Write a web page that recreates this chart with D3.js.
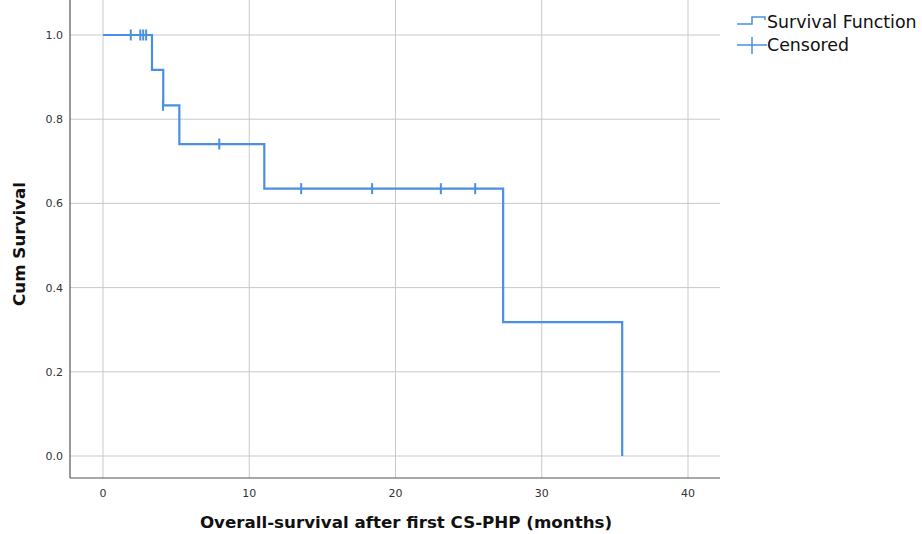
<!DOCTYPE html>
<meta charset="utf-8">
<style>
    body { margin: 0; background: #fff; }
    .tick-label { font: 11px "DejaVu Sans", sans-serif; fill: #333; }
    .axis-title { font: bold 16.7px "DejaVu Sans", sans-serif; fill: #111; }
    .legend { font: 17.4px "DejaVu Sans", sans-serif; fill: #111; }
</style>
<svg width="922" height="534"></svg>
<script src="https://d3js.org/d3.v7.min.js"></script>
<script>

    // Kaplan-Meier steps
    var stepTimes = [0, 3.35, 4.12, 5.22, 11.03, 27.36, 35.5];
    var stepSurv = [1.0, 0.917, 0.833, 0.741, 0.635, 0.318, 0.0];

    // censored observations
    var censorTimes = [1.9, 2.55, 2.75, 2.95, 4.1, 7.95, 13.55, 18.4, 23.1, 25.45];
    var censorSurv = [1.0, 1.0, 1.0, 1.0, 0.833, 0.741, 0.635, 0.635, 0.635, 0.635];

    var xTicks = [0, 10, 20, 30, 40];
    var yTicks = [0.0, 0.2, 0.4, 0.6, 0.8, 1.0];

    var svg = d3.select("svg"),
        lineColor = "#4a90e2",
        left = 70, right = 720, top = 10, bottom = 478;

    var x = d3.scaleLinear().domain([0, 40]).range([103, 688]);
    var y = d3.scaleLinear().domain([0, 1]).range([456, 35]);

    // grid
    svg.append("g").selectAll("line")
        .data(xTicks)
        .enter().append("line")
        .attr("x1", function(d) { return x(d); })
        .attr("x2", function(d) { return x(d); })
        .attr("y1", top).attr("y2", bottom)
        .attr("stroke", "#c9c9c9").attr("stroke-width", 1);

    svg.append("g").selectAll("line")
        .data(yTicks)
        .enter().append("line")
        .attr("x1", left).attr("x2", right)
        .attr("y1", function(d) { return y(d); })
        .attr("y2", function(d) { return y(d); })
        .attr("stroke", "#c9c9c9").attr("stroke-width", 1);

    // axis lines
    svg.append("line")
        .attr("x1", left).attr("x2", left).attr("y1", top).attr("y2", bottom)
        .attr("stroke", "#555").attr("stroke-width", 1.2);
    svg.append("line")
        .attr("x1", left).attr("x2", right).attr("y1", bottom).attr("y2", bottom)
        .attr("stroke", "#555").attr("stroke-width", 1.2);

    // tick labels
    svg.append("g").selectAll("text")
        .data(xTicks)
        .enter().append("text")
        .attr("class", "tick-label")
        .attr("x", function(d) { return x(d); })
        .attr("y", 497)
        .attr("text-anchor", "middle")
        .text(function(d) { return d; });

    svg.append("g").selectAll("text")
        .data(yTicks)
        .enter().append("text")
        .attr("class", "tick-label")
        .attr("x", 63)
        .attr("y", function(d) { return y(d) + 4; })
        .attr("text-anchor", "end")
        .text(function(d) { return d.toFixed(1); });

    // survival curve
    var pts = stepTimes.map(function(t, i) { return [t, stepSurv[i]]; });
    var line = d3.line()
        .x(function(d) { return x(d[0]); })
        .y(function(d) { return y(d[1]); })
        .curve(d3.curveStepAfter);

    svg.append("path")
        .datum(pts)
        .attr("d", line)
        .attr("fill", "none")
        .attr("stroke", lineColor)
        .attr("stroke-width", 2.2);

    // censor marks
    svg.append("g").selectAll("line")
        .data(censorTimes)
        .enter().append("line")
        .attr("x1", function(d) { return x(d); })
        .attr("x2", function(d) { return x(d); })
        .attr("y1", function(d, i) { return y(censorSurv[i]) - 5.5; })
        .attr("y2", function(d, i) { return y(censorSurv[i]) + 5.5; })
        .attr("stroke", lineColor)
        .attr("stroke-width", 2);

    // axis titles
    svg.append("text")
        .attr("class", "axis-title")
        .attr("transform", "translate(25,244) rotate(-90)")
        .attr("text-anchor", "middle")
        .text("Cum Survival");

    svg.append("text")
        .attr("class", "axis-title")
        .attr("x", 406).attr("y", 528)
        .attr("text-anchor", "middle")
        .text("Overall-survival after first CS-PHP (months)");

    // legend
    svg.append("path")
        .attr("d", "M737,24H752V17H765V20")
        .attr("fill", "none")
        .attr("stroke", lineColor)
        .attr("stroke-width", 1.5);
    svg.append("text").attr("class", "legend")
        .attr("x", 767).attr("y", 28).text("Survival Function");

    svg.append("line")
        .attr("x1", 737).attr("x2", 767).attr("y1", 45).attr("y2", 45)
        .attr("stroke", lineColor).attr("stroke-width", 1.5);
    svg.append("line")
        .attr("x1", 752).attr("x2", 752).attr("y1", 37).attr("y2", 54)
        .attr("stroke", lineColor).attr("stroke-width", 1.5);
    svg.append("text").attr("class", "legend")
        .attr("x", 767).attr("y", 51).text("Censored");
</script>
